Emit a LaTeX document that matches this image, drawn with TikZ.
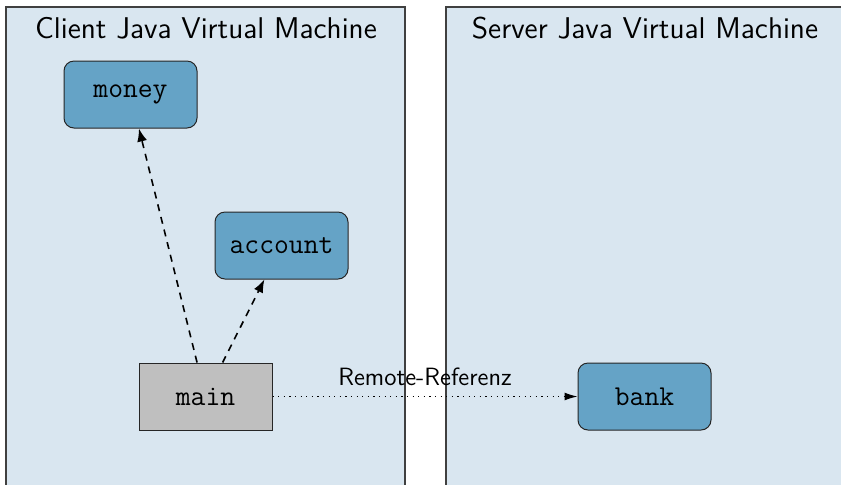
\documentclass[tikz,border=0pt]{standalone}
\usetikzlibrary{arrows.meta}
\definecolor{panelbg}{HTML}{D9E6F0}
\definecolor{objfill}{HTML}{65A3C6}
\definecolor{mainfill}{HTML}{BFBFBF}
\begin{document}
\begin{tikzpicture}[x=0.5pt,y=-0.5pt,
  panel/.style={fill=panelbg,draw=black!75,line width=0.7pt},
  paneltitle/.style={font=\fontsize{15}{18}\selectfont\sffamily,inner sep=0pt},
  obj/.style={draw=black!85,fill=objfill,rounded corners=5pt,line width=0.5pt,
    minimum width=66.5pt,minimum height=33.5pt,inner sep=0pt,
    font=\fontsize{14.4}{17}\selectfont\ttfamily},
  mainobj/.style={obj,fill=mainfill,rounded corners=0pt},
  dep/.style={dash pattern=on 3.5pt off 3pt,line width=0.8pt,-{Latex[length=6.5pt,width=5pt]}},
  remote/.style={dash pattern=on 0.6pt off 2.2pt,line width=0.6pt,-{Latex[length=6.5pt,width=4pt]}},
  lbl/.style={font=\fontsize{12.5}{15}\selectfont\sffamily,inner sep=0pt}
]
\useasboundingbox (0,0) rectangle (841,484);
\begin{scope}
\clip (0,0) rectangle (841,484);
\path[panel] (6,7) rectangle (405,520);
\path[panel] (446,7) rectangle (880,520);
\end{scope}
\node[paneltitle] (ctitle) at (206,28) {Client Java Virtual Machine};
\node[paneltitle] (stitle) at (645,28) {Server Java Virtual Machine};
\node[obj] (money) at (130.5,94.5) {money};
\node[obj] (account) at (281.5,245.5) {account};
\node[mainobj] (main) at (205.5,396.5) {main};
\node[obj] (bank) at (644.5,396.5) {bank};
\draw[dep] (main) -- (money);
\draw[dep] (main) -- (account);
\draw[remote] (main) -- node[lbl,above=5pt] {Remote-Referenz} (bank);
\end{tikzpicture}
\end{document}
